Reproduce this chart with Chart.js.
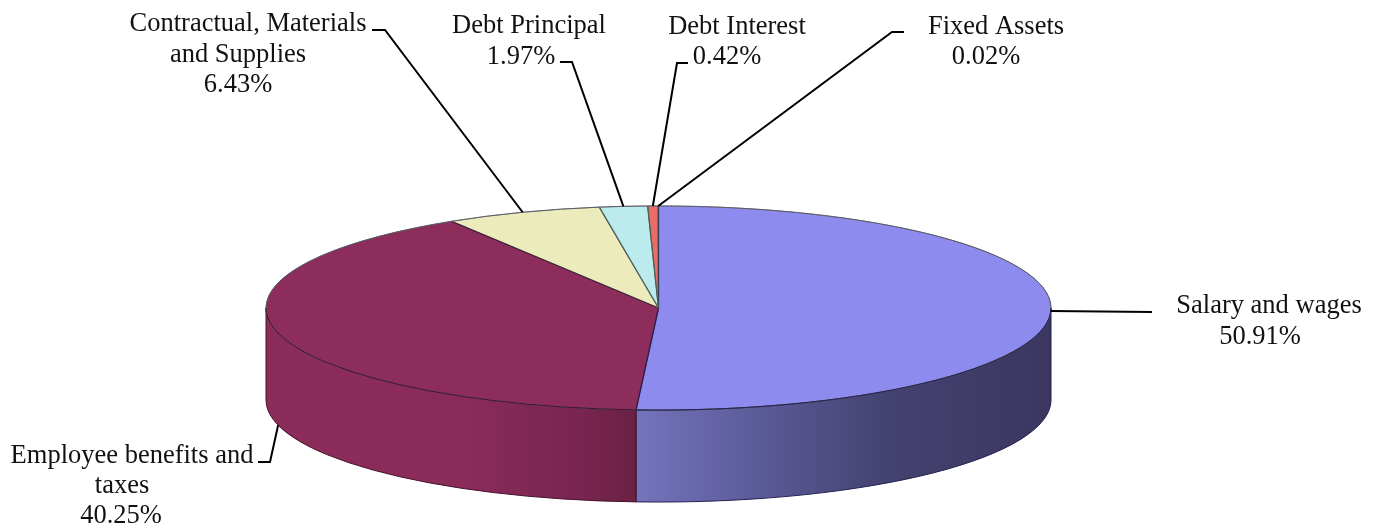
<!DOCTYPE html>
<html>
<head>
<meta charset="utf-8">
<title>Expenditure pie</title>
<script src="https://cdn.jsdelivr.net/npm/chart.js@4/dist/chart.umd.min.js"></script>
<style>
  html, body { margin: 0; padding: 0; background: #fff; }
  canvas { display: block; }
</style>
</head>
<body>
<canvas id="chart" width="1378" height="527"></canvas>
<script>
const categories = ["Salary and wages", "Employee benefits and taxes", "Contractual, Materials and Supplies", "Debt Principal", "Debt Interest", "Fixed Assets"];
const shares = [50.91, 40.25, 6.43, 1.97, 0.42, 0.02];
const topColors = ["#8d8cee", "#8d2d5c", "#ebebbc", "#bbebec", "#e96d66", "#8d8cee"];
const wallStops = [
  [[0, "#7573bb"], [0.3, "#5b5a98"], [0.6, "#444270"], [1, "#3b3760"]],
  [[0, "#8c2c5b"], [0.55, "#8a2b5a"], [0.85, "#78254f"], [1, "#6b2144"]]
];
const rimColors = ["#23214f", "#45122e"];
// colour of the line at the start of each slice
const edgeColors = ["#3a3a55", "#2c1a50", "#45203a", "#4f5f58", "#4f5f58", "#4f5f58"];

// label layout: lines of text with centre x and baseline y, last line is the percentage
const labelLines = [
  [["Salary and wages", 1269, 313], [1260, 344]],
  [["Employee benefits and", 132, 463], ["taxes", 122, 493], [121, 523]],
  [["Contractual, Materials", 248, 31], ["and Supplies", 238, 62], [238, 92]],
  [["Debt Principal", 529, 33], [521, 64]],
  [["Debt Interest", 737, 34], [727, 64]],
  [["Fixed Assets", 996, 34], [986, 64]]
];
// leader lines run from the rim to these elbows
const leaderElbows = [
  [[1152, 312]],
  [[270, 462], [258, 462]],
  [[385, 30], [372, 30]],
  [[572, 62], [560, 62]],
  [[677, 63], [688, 63]],
  [[892, 32], [904, 32]]
];

const squash = 0.26;   // ellipse height / width of the top face
const depth = 92;

function rimPoint(arc, angle, drop) {
  return [arc.x + arc.outerRadius * Math.cos(angle), arc.y + arc.outerRadius * squash * Math.sin(angle) + drop];
}

const pie3d = {
  id: "pie3d",
  beforeDatasetsDraw(chart) {
    const ctx = chart.ctx;
    const arcs = chart.getDatasetMeta(0).data;
    arcs.forEach((arc, i) => {
      const a0 = Math.max(arc.startAngle, 0);
      const a1 = Math.min(arc.endAngle, Math.PI);
      if (a1 <= a0 || !wallStops[i]) return;
      const ry = arc.outerRadius * squash;
      const grad = ctx.createLinearGradient(arc.x + arc.outerRadius * Math.cos(a1), 0, arc.x + arc.outerRadius * Math.cos(a0), 0);
      wallStops[i].forEach(s => grad.addColorStop(s[0], s[1]));
      ctx.beginPath();
      ctx.ellipse(arc.x, arc.y, arc.outerRadius, ry, 0, a0, a1);
      ctx.ellipse(arc.x, arc.y + depth, arc.outerRadius, ry, 0, a1, a0, true);
      ctx.closePath();
      ctx.fillStyle = grad;
      ctx.fill();
      ctx.lineWidth = 1;
      ctx.strokeStyle = rimColors[i];
      ctx.stroke();
    });
    const c = arcs[0];
    ctx.save();
    ctx.translate(c.x, c.y);
    ctx.scale(1, squash);
    ctx.translate(-c.x, -c.y);
  },
  afterDatasetsDraw(chart) {
    const ctx = chart.ctx;
    ctx.restore();
    const arcs = chart.getDatasetMeta(0).data;

    // slice edges, redrawn unsquashed so they keep their weight
    arcs.forEach((arc, i) => {
      if (i === arcs.length - 1) return;
      const p = rimPoint(arc, arc.startAngle, 0);
      ctx.lineWidth = 1.3;
      ctx.strokeStyle = edgeColors[i];
      ctx.beginPath();
      ctx.moveTo(arc.x, arc.y);
      ctx.lineTo(p[0], p[1]);
      ctx.stroke();
    });
    // rim of the top face, dark along the front like the walls
    arcs.forEach((arc, i) => {
      const ry = arc.outerRadius * squash;
      ctx.lineWidth = 1;
      ctx.strokeStyle = "#5a5a66";
      ctx.beginPath();
      ctx.ellipse(arc.x, arc.y, arc.outerRadius, ry, 0, arc.startAngle, arc.endAngle);
      ctx.stroke();
      const a0 = Math.max(arc.startAngle, 0);
      const a1 = Math.min(arc.endAngle, Math.PI);
      if (a1 > a0 && rimColors[i]) {
        ctx.strokeStyle = rimColors[i];
        ctx.beginPath();
        ctx.ellipse(arc.x, arc.y, arc.outerRadius, ry, 0, a0, a1);
        ctx.stroke();
      }
    });

    ctx.strokeStyle = "#000";
    ctx.lineWidth = 2;
    ctx.lineJoin = "miter";
    arcs.forEach((arc, i) => {
      const mid = (arc.startAngle + arc.endAngle) / 2;
      // the employee label hangs off the bottom of the wall
      const start = rimPoint(arc, mid, i === 1 ? depth : 0);
      ctx.beginPath();
      ctx.moveTo(start[0], start[1]);
      leaderElbows[i].forEach(p => ctx.lineTo(p[0], p[1]));
      ctx.stroke();
    });

    ctx.fillStyle = "#111";
    ctx.font = '26.5px "Liberation Serif"';
    ctx.textAlign = "center";
    ctx.textBaseline = "alphabetic";
    labelLines.forEach((lines, i) => {
      lines.forEach(l => {
        if (l.length === 3) ctx.fillText(l[0], l[1], l[2]);
        else ctx.fillText(shares[i].toFixed(2) + "%", l[0], l[1]);
      });
    });
  }
};

new Chart(document.getElementById("chart"), {
  type: "pie",
  plugins: [pie3d],
  data: {
    labels: categories,
    datasets: [{
      data: shares,
      backgroundColor: topColors,
      borderColor: "#4c4c5c",
      borderWidth: 0.8,
      clip: false
    }]
  },
  options: {
    responsive: false,
    animation: false,
    radius: 392.5,
    layout: { padding: { left: 0, right: 61, top: 89, bottom: 0 } },
    plugins: { legend: { display: false }, tooltip: { enabled: false } }
  }
});
</script>
</body>
</html>
